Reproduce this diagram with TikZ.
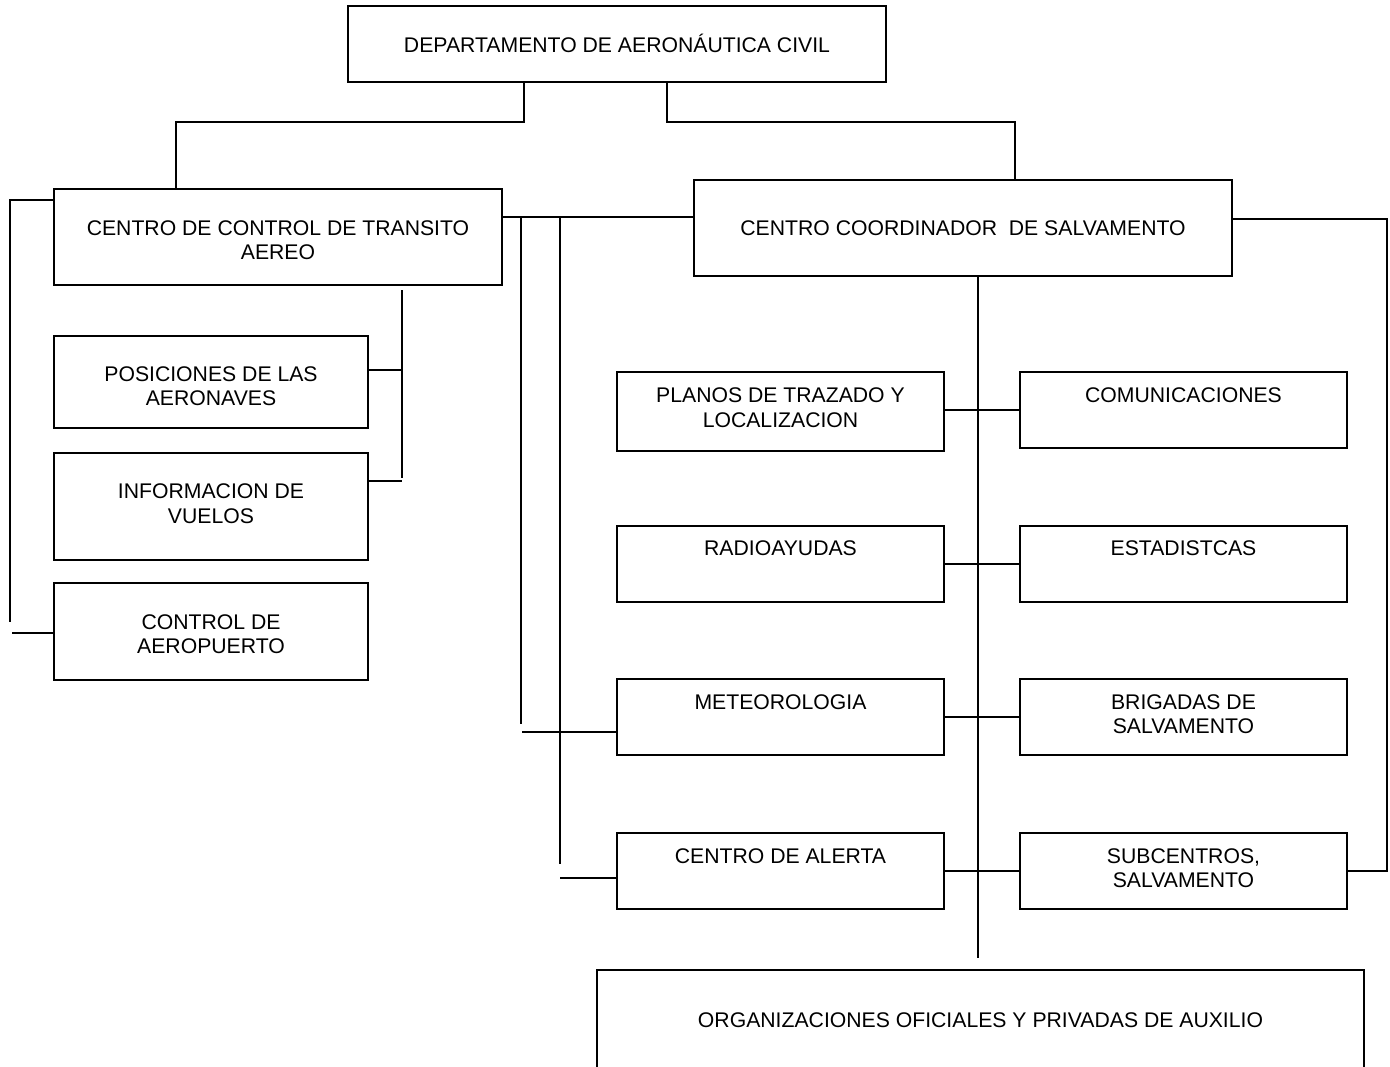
\documentclass[tikz,border=0pt]{standalone}
\usepackage{fontspec}
\setmainfont{Liberation Sans}
\begin{document}
\begin{tikzpicture}[x=1pt,y=-1pt,
  box/.style={draw=black, rectangle, inner sep=0pt, line width=1.6pt},
  lbl/.style={inner sep=0pt, align=center, font=\fontsize{21.2}{24.5}\selectfont},
  wire/.style={draw=black, line width=1.6pt}]
\useasboundingbox (0,0) rectangle (1390,1066);
\clip (0,0) rectangle (1390,1066);
% boxes
\node[box, minimum width=538pt, minimum height=76pt] (dac) at (617,44) {};
\node[box, minimum width=448pt, minimum height=96pt] (ccta) at (278,237) {};
\node[box, minimum width=538pt, minimum height=96pt] (ccs) at (963,228) {};
\node[box, minimum width=314pt, minimum height=92pt] (pos) at (211,382) {};
\node[box, minimum width=314pt, minimum height=107pt] (inf) at (211,506.5) {};
\node[box, minimum width=314pt, minimum height=97pt] (ctrl) at (211,631.5) {};
\node[box, minimum width=327pt, minimum height=79pt] (plan) at (780.5,411.5) {};
\node[box, minimum width=327pt, minimum height=76pt] (com) at (1183.5,410) {};
\node[box, minimum width=327pt, minimum height=76pt] (rad) at (780.5,564) {};
\node[box, minimum width=327pt, minimum height=76pt] (est) at (1183.5,564) {};
\node[box, minimum width=327pt, minimum height=76pt] (met) at (780.5,717) {};
\node[box, minimum width=327pt, minimum height=76pt] (bri) at (1183.5,717) {};
\node[box, minimum width=327pt, minimum height=76pt] (ale) at (780.5,871) {};
\node[box, minimum width=327pt, minimum height=76pt] (sub) at (1183.5,871) {};
\node[box, minimum width=767pt, minimum height=150pt] (org) at (980.5,1045) {};
% labels
\node[lbl, anchor=base] (dac-t) at (617,52.6) {DEPARTAMENTO DE AERONÁUTICA CIVIL};
\node[lbl] (ccta-t) at (278,240) {CENTRO DE CONTROL DE TRANSITO\\AEREO};
\node[lbl] (ccs-t) at (963,228) {CENTRO COORDINADOR\ \ DE SALVAMENTO};
\node[lbl] (pos-t) at (211,386) {POSICIONES DE LAS\\AERONAVES};
\node[lbl] (inf-t) at (211,503.5) {INFORMACION DE\\VUELOS};
\node[lbl] (ctrl-t) at (211,634) {CONTROL DE\\AEROPUERTO};
\node[lbl] (plan-t) at (780.5,407.5) {PLANOS DE TRAZADO Y\\LOCALIZACION};
\node[lbl] (com-t) at (1183.5,395) {COMUNICACIONES};
\node[lbl] (rad-t) at (780.5,548) {RADIOAYUDAS};
\node[lbl] (est-t) at (1183.5,548) {ESTADISTCAS};
\node[lbl] (met-t) at (780.5,702) {METEOROLOGIA};
\node[lbl] (bri-t) at (1183.5,714) {BRIGADAS DE\\SALVAMENTO};
\node[lbl] (ale-t) at (780.5,856) {CENTRO DE ALERTA};
\node[lbl] (sub-t) at (1183.5,868) {SUBCENTROS,\\SALVAMENTO};
\node[lbl] (org-t) at (980.5,1020) {ORGANIZACIONES OFICIALES Y PRIVADAS DE AUXILIO};
% coordinates
\coordinate (d1) at (524,122);
\coordinate (d2) at (667,122);
\coordinate (cA) at (176,0);
\coordinate (cB) at (1015,0);
\coordinate (h1) at (0,217);
\coordinate (v1) at (521,217);
\coordinate (v1e) at (521,724);
\coordinate (m1) at (522,732);
\coordinate (v2) at (560,217);
\coordinate (v2e) at (560,864);
\coordinate (m2) at (560,878);
\coordinate (tr) at (978,0);
\coordinate (tre) at (978,958);
\coordinate (rr) at (1387,219);
\coordinate (lb1) at (10,200);
\coordinate (lb2) at (10,622);
\coordinate (lb3) at (12,633);
\coordinate (rb1) at (402,290);
\coordinate (rb2) at (402,478);
\coordinate (rb3) at (402,370);
\coordinate (rb4) at (402,481);
% connectors
\draw[wire] (dac.south -| d1) -- (d1) -| (ccta.north -| cA);
\draw[wire] (dac.south -| d2) -- (d2) -| (ccs.north -| cB);
\draw[wire] (ccta.east |- h1) -- (ccs.west |- h1);
\draw[wire] (v1) -- (v1e);
\draw[wire] (m1) -- (met.west |- m1);
\draw[wire] (v2) -- (v2e);
\draw[wire] (m2) -- (ale.west |- m2);
\draw[wire] (ccs.south -| tr) -- (tre);
\draw[wire] (plan.east |- com.west) -- (com.west);
\draw[wire] (rad.east) -- (est.west);
\draw[wire] (met.east) -- (bri.west);
\draw[wire] (ale.east) -- (sub.west);
\draw[wire] (ccs.east |- rr) -- (rr) |- (sub.east);
\draw[wire] (ccta.west |- lb1) -- (lb1) -- (lb2);
\draw[wire] (lb3) -- (ctrl.west |- lb3);
\draw[wire] (rb1) -- (rb2);
\draw[wire] (pos.east |- rb3) -- (rb3);
\draw[wire] (inf.east |- rb4) -- (rb4);
\end{tikzpicture}
\end{document}
